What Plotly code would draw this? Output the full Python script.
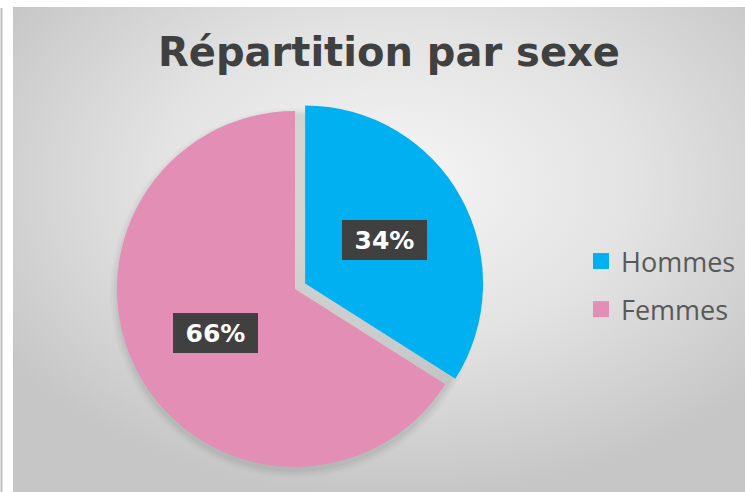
import math
import base64
import plotly.graph_objects as go

# ---- data ----
labels = ["Hommes", "Femmes"]
values = [34, 66]
colors = ["#00B0F0", "#E38EB4"]
pulls = [0.065, 0]
title_text = "Répartition par sexe"

# ---- geometry (pixels) ----
W, H = 745, 492
cx_px, cy_px, box = 295, 289, 379
dom_x = [(cx_px - box / 2) / W, (cx_px + box / 2) / W]
dom_y = [1 - (cy_px + box / 2) / H, 1 - (cy_px - box / 2) / H]
R = box / (2 + 2 * max(pulls))

fig = go.Figure()

# background gradient (chart area)
area_x0, area_y0 = 13, 7
aw, ah = W - area_x0 + 4, H - area_y0 + 4
svg = f'''<svg xmlns="http://www.w3.org/2000/svg" width="{aw}" height="{ah}" viewBox="0 0 {aw} {ah}" preserveAspectRatio="none">
<defs><radialGradient id="g" cx="0.52" cy="0.36" r="0.64" gradientUnits="objectBoundingBox">
<stop offset="0" stop-color="#f5f5f5"/><stop offset="0.5" stop-color="#e3e3e3"/><stop offset="1" stop-color="#c6c6c6"/>
</radialGradient></defs>
<rect x="0" y="0" width="{aw}" height="{ah}" fill="url(#g)"/></svg>'''
src = "data:image/svg+xml;base64," + base64.b64encode(svg.encode()).decode()
fig.add_layout_image(dict(source=src, xref="paper", yref="paper",
                          x=area_x0 / W, y=1 - area_y0 / H, sizex=aw / W, sizey=ah / H,
                          xanchor="left", yanchor="top", sizing="stretch", layer="below"))

shapes = []
# white outer strips (top and left)
shapes.append(dict(type="rect", xref="paper", yref="paper", x0=0, x1=1, y0=1 - area_y0 / H, y1=1,
                   fillcolor="white", line=dict(width=0), layer="below"))
shapes.append(dict(type="rect", xref="paper", yref="paper", x0=0, x1=area_x0 / W, y0=0, y1=1,
                   fillcolor="white", line=dict(width=0), layer="below"))
# soft shadow under the pie
for k, a in enumerate([0.05, 0.04, 0.03, 0.02]):
    rr = R + 1 + 2 * k
    sx, sy = cx_px, cy_px + 4
    shapes.append(dict(type="circle", xref="paper", yref="paper",
                       x0=(sx - rr) / W, x1=(sx + rr) / W,
                       y0=1 - (sy + rr) / H, y1=1 - (sy - rr) / H,
                       fillcolor=f"rgba(60,70,70,{a})", line=dict(width=0), layer="below"))
# thin frame line on the left
shapes.append(dict(type="line", xref="paper", yref="paper", x0=1.5 / W, x1=1.5 / W,
                   y0=0, y1=1 - 8 / H, line=dict(color="#bdbdbd", width=2), layer="below"))

fig.add_trace(go.Pie(
    labels=labels, values=values, sort=False, direction="clockwise", rotation=0,
    pull=pulls, marker=dict(colors=colors, line=dict(width=0)),
    textinfo="none", hoverinfo="label+percent", showlegend=False,
    domain=dict(x=dom_x, y=dom_y),
))

# legend entries
for lab, col in zip(labels, colors):
    fig.add_trace(go.Scatter(x=[None], y=[None], mode="markers", name=lab, legendgroup=lab,
                             marker=dict(symbol="square", size=16, color=col), showlegend=True))

# percentage labels with dark boxes
annotations = []
total = sum(values)
cum = 0
for lab, v, p in zip(labels, values, pulls):
    mid = (cum + v / 2) / total * 2 * math.pi
    cum += v
    ox = cx_px + p * R * math.sin(mid)
    oy = cy_px - p * R * math.cos(mid)
    lx = ox + 0.51 * R * math.sin(mid)
    ly = oy - 0.51 * R * math.cos(mid)
    annotations.append(dict(
        x=lx / W, y=1 - ly / H, xref="paper", yref="paper", showarrow=False,
        text=f"<b>{round(100 * v / total)}%</b>", xanchor="center", yanchor="middle",
        font=dict(family="DejaVu Sans", size=25, color="white"),
        bgcolor="#404040", borderpad=4, borderwidth=0, width=77, height=32, align="center"))

fig.update_layout(
    width=W, height=H, margin=dict(l=0, r=0, t=0, b=0),
    paper_bgcolor="#c9c9c9", plot_bgcolor="rgba(0,0,0,0)",
    title=dict(text=f"<b>{title_text}</b>", x=389 / W, xanchor="center",
               y=1 - 52 / H, yanchor="middle",
               font=dict(family="DejaVu Sans", size=40, color="#404040")),
    xaxis=dict(visible=False), yaxis=dict(visible=False),
    legend=dict(x=581 / W, xanchor="left", y=1 - 285.5 / H, yanchor="middle",
                font=dict(family="Open Sans", size=27, color="#595959"),
                bgcolor="rgba(0,0,0,0)", tracegroupgap=10, itemsizing="trace"),
    shapes=shapes, annotations=annotations,
)

fig.write_html("out.html", config={"displayModeBar": False},
               post_script="document.body.style.margin='0';document.body.style.overflow='hidden';"
                           "document.body.style.background='#c9c9c9';")
